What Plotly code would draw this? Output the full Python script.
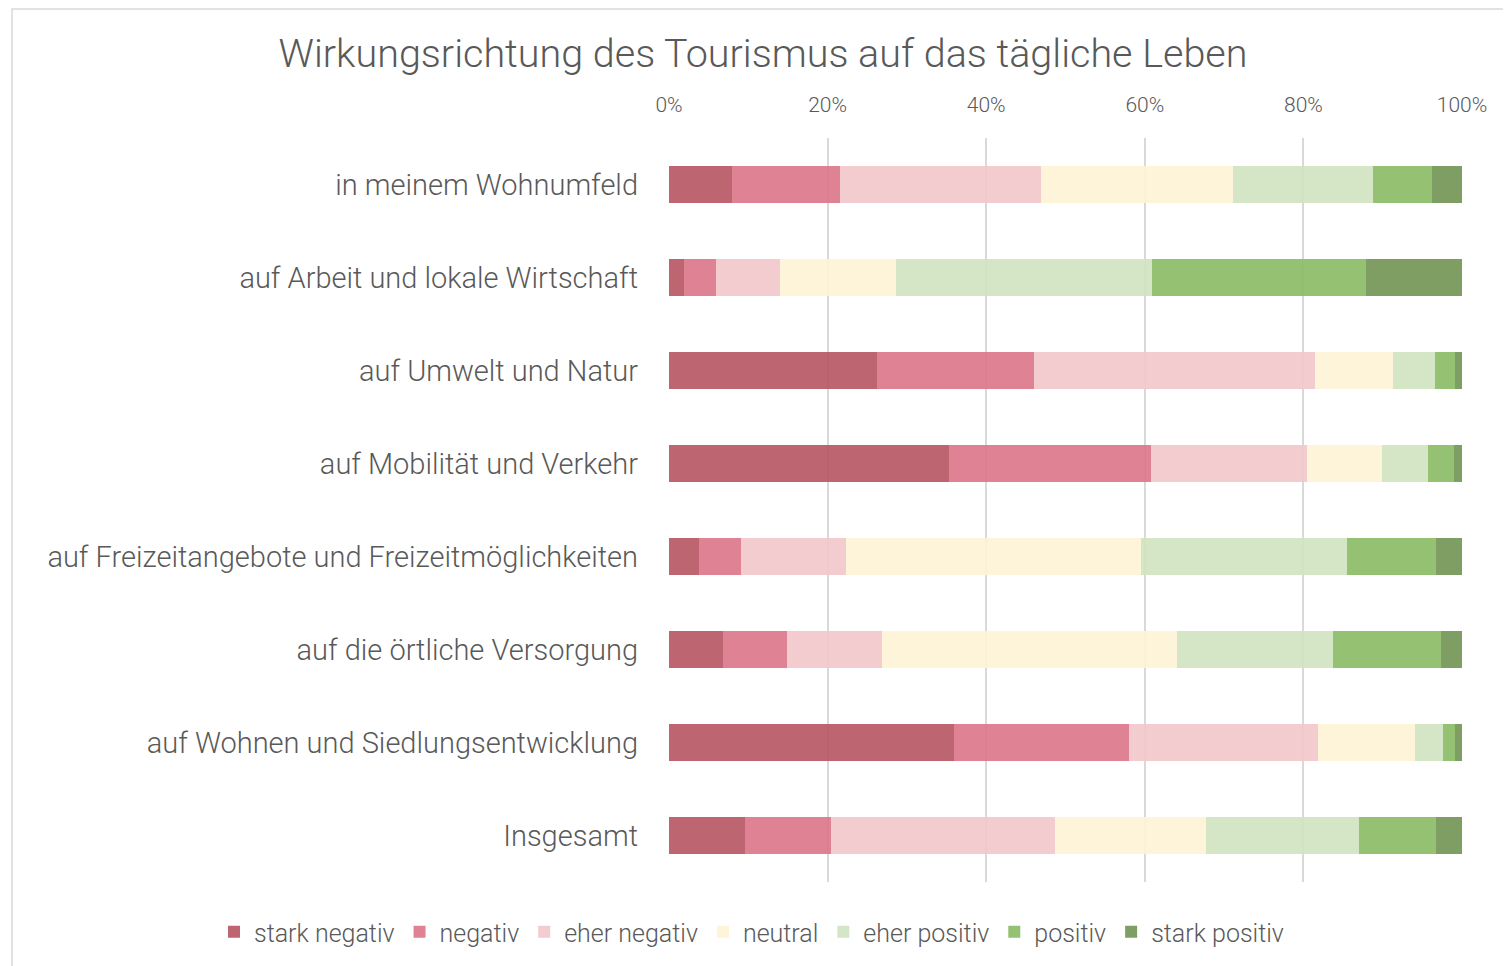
import plotly.graph_objects as go

categories = [
    "in meinem Wohnumfeld",
    "auf Arbeit und lokale Wirtschaft",
    "auf Umwelt und Natur",
    "auf Mobilität und Verkehr",
    "auf Freizeitangebote und Freizeitmöglichkeiten",
    "auf die örtliche Versorgung",
    "auf Wohnen und Siedlungsentwicklung",
    "Insgesamt",
]

stark_negativ = [7.9, 1.9, 26.2, 35.3, 3.8, 6.8, 35.9, 9.6]
negativ = [13.7, 4.0, 19.8, 25.5, 5.3, 8.1, 22.1, 10.8]
eher_negativ = [25.3, 8.1, 35.4, 19.7, 13.2, 12.0, 23.8, 28.2]
neutral = [24.1, 14.6, 9.8, 9.5, 37.2, 37.1, 12.2, 19.0]
eher_positiv = [17.7, 32.3, 5.3, 5.8, 26.0, 19.7, 3.5, 19.3]
positiv = [7.4, 27.0, 2.5, 3.3, 11.2, 13.7, 1.5, 9.7]
stark_positiv = [3.8, 12.1, 0.9, 1.0, 3.3, 2.6, 0.9, 3.3]

series = [
    ("stark negativ", stark_negativ, "rgba(182,85,98,0.9)"),
    ("negativ", negativ, "rgba(219,116,135,0.9)"),
    ("eher negativ", eher_negativ, "rgba(242,199,203,0.9)"),
    ("neutral", neutral, "rgba(254,243,214,0.9)"),
    ("eher positiv", eher_positiv, "rgba(207,227,192,0.9)"),
    ("positiv", positiv, "rgba(136,186,99,0.9)"),
    ("stark positiv", stark_positiv, "rgba(112,147,83,0.9)"),
]

FONT = "Roboto"
TXT = "#595959"

fig = go.Figure()
for name, vals, col in series:
    fig.add_trace(go.Bar(
        name=name, y=categories, x=vals, orientation="h",
        marker=dict(color=col, line=dict(width=0)),
    ))

fig.update_layout(barmode="stack", barnorm="percent")

# page body has an 8px margin, so the figure is offset by (8, 8)
OFF = 8
W, H = 1511 - OFF, 966 - OFF
L, R, T, B = 669 - OFF, 49, 138 - OFF, 84
pw, ph = W - L - R, H - T - B

def px(x):  # page x -> paper
    return (x - OFF - L) / pw

def py(y):  # page y -> paper
    return (H - B - (y - OFF)) / ph

fig.update_layout(
    width=W, height=H, autosize=False,
    margin=dict(l=L, r=R, t=T, b=B, pad=0, autoexpand=False),
    paper_bgcolor="white", plot_bgcolor="white",
    font=dict(family=FONT, color=TXT, weight=300),
    bargap=0.6,
    title=dict(text="Wirkungsrichtung des Tourismus auf das tägliche Leben",
               x=(763 - OFF) / W, xanchor="center", xref="container",
               y=1 - (53 - OFF) / H, yanchor="middle", yref="container",
               font=dict(size=39.5, color=TXT, family=FONT, weight=300)),
    xaxis=dict(side="top", range=[0, 100], tickvals=[0, 20, 40, 60, 80, 100],
               ticktext=["0%", "20%", "40%", "60%", "80%", "100%"],
               showgrid=True, gridcolor="#d9d9d9", gridwidth=1.5,
               zeroline=False, showline=False, ticks="", ticklen=0,
               ticklabelstandoff=21,
               tickfont=dict(size=21, color=TXT, family=FONT, weight=300), automargin=False),
    yaxis=dict(categoryorder="array", categoryarray=categories[::-1],
               showgrid=False, zeroline=False, showline=False, ticks="",
               ticklabelstandoff=30,
               tickfont=dict(size=29, color=TXT, family=FONT, weight=300), automargin=False),
    legend=dict(orientation="h", xref="paper", yref="paper",
                x=px(214), xanchor="left",
                y=py(932), yanchor="middle",
                font=dict(size=25, color=TXT, family=FONT, weight=300), traceorder="normal",
                itemwidth=30, bgcolor="rgba(0,0,0,0)"),
    shapes=[dict(type="rect", xref="paper", yref="paper",
                 x0=px(12), x1=px(1530), y0=py(985), y1=py(9),
                 line=dict(color="#d9d9d9", width=1.5), fillcolor="rgba(0,0,0,0)", layer="below")],
)

fig.write_html("out.html")
